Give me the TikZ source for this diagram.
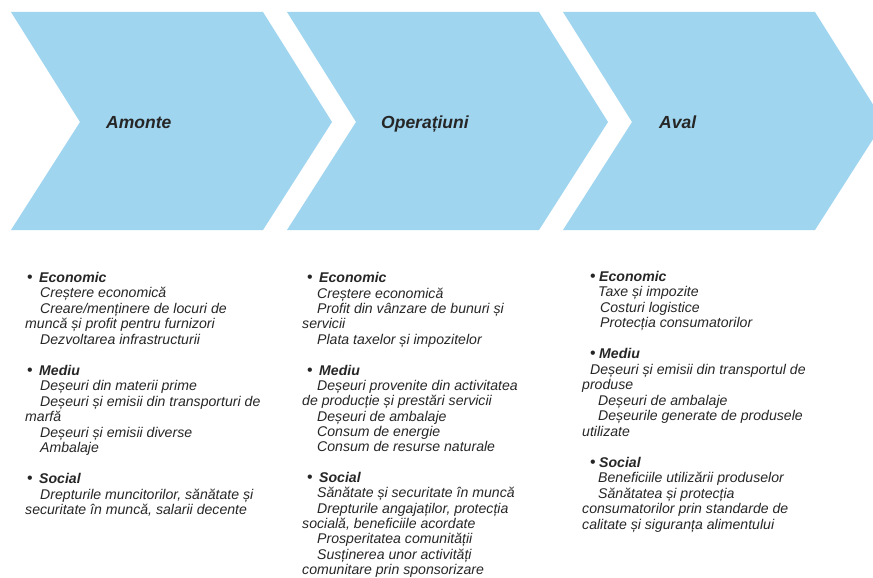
\documentclass[tikz,border=0pt]{standalone}
\usepackage{fontspec}
\setmainfont{Liberation Sans}
\definecolor{chev}{RGB}{160,213,240}
\definecolor{txt}{RGB}{38,38,38}
\newcommand\hd[3]{\hspace*{#1}\makebox[#2][l]{\upshape\fontsize{16}{15.5}\selectfont •}\textbf{#3}}
\newcommand\ind[1]{\hspace*{#1}}
\begin{document}
\begin{tikzpicture}[x=1pt,y=-1pt,
  stage/.style={anchor=base west,inner sep=0pt,font=\fontsize{17.5}{20}\selectfont\bfseries\itshape,text=txt},
  col/.style={anchor=north west,inner sep=0pt,align=left,font=\fontsize{14.1}{15.5}\selectfont\itshape,text=txt}]
\useasboundingbox (0,0) rectangle (873,578);
\clip (0,0) rectangle (873,578);
\foreach \dx in {0,276,552} {
  \fill[chev] (11+\dx,12) -- (263+\dx,12) -- (332+\dx,122) -- (263+\dx,230) -- (11+\dx,230) -- (80+\dx,122) -- cycle;
}
\node[stage] (amonte) at (106,128.5) {Amonte};
\node[stage] (oper) at (381,128.5) {Operațiuni};
\node[stage] (aval) at (659,128.5) {Aval};

\node[col] (c1) at (25,272) {%
\hd{2pt}{12pt}{Economic}\\
\ind{15pt}Creștere economică\\
\ind{15pt}Creare/menținere de locuri de\\
muncă și profit pentru furnizori\\
\ind{15pt}Dezvoltarea infrastructurii\\[15.5pt]
\hd{2pt}{12pt}{Mediu}\\
\ind{15pt}Deșeuri din materii prime\\
\ind{15pt}Deșeuri și emisii din transporturi de\\
marfă\\
\ind{15pt}Deșeuri și emisii diverse\\
\ind{15pt}Ambalaje\\[15.5pt]
\hd{2pt}{12pt}{Social}\\
\ind{15pt}Drepturile muncitorilor, sănătate și\\
securitate în muncă, salarii decente};

\node[col,font=\fontsize{14.1}{15.35}\selectfont\itshape] (c2) at (302,272.5) {%
\hd{5pt}{12pt}{Economic}\\
\ind{15pt}Creștere economică\\
\ind{15pt}Profit din vânzare de bunuri și\\
servicii\\
\ind{15pt}Plata taxelor și impozitelor\\[15.4pt]
\hd{5pt}{12pt}{Mediu}\\
\ind{15pt}Deșeuri provenite din activitatea\\
de producție și prestări servicii\\
\ind{15pt}Deșeuri de ambalaje\\
\ind{15pt}Consum de energie\\
\ind{15pt}Consum de resurse naturale\\[15.4pt]
\hd{5pt}{12pt}{Social}\\
\ind{15pt}Sănătate și securitate în muncă\\
\ind{15pt}Drepturile angajaților, protecția\\
socială, beneficiile acordate\\
\ind{15pt}Prosperitatea comunității\\
\ind{15pt}Susținerea unor activități\\
comunitare prin sponsorizare};

\node[col] (c3) at (582,271) {%
\hd{8pt}{9pt}{Economic}\\
\ind{16pt}Taxe și impozite\\
\ind{18pt}Costuri logistice\\
\ind{18pt}Protecția consumatorilor\\[15.5pt]
\hd{8pt}{9pt}{Mediu}\\
\ind{8pt}Deșeuri și emisii din transportul de\\
produse\\
\ind{16pt}Deșeuri de ambalaje\\
\ind{16pt}Deșeurile generate de produsele\\
utilizate\\[15.5pt]
\hd{8pt}{9pt}{Social}\\
\ind{16pt}Beneficiile utilizării produselor\\
\ind{16pt}Sănătatea și protecția\\
consumatorilor prin standarde de\\
calitate și siguranța alimentului};
\end{tikzpicture}
\end{document}
